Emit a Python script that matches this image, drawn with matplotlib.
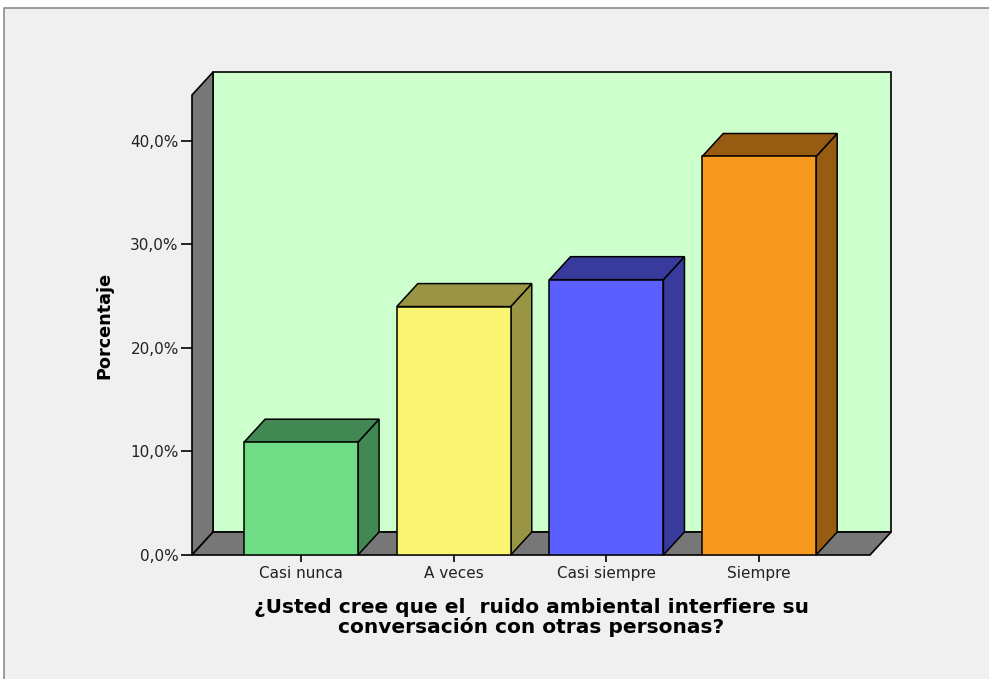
import matplotlib
matplotlib.use('Agg')
import matplotlib.pyplot as plt
from matplotlib.patches import Polygon, Rectangle
from matplotlib.lines import Line2D
from matplotlib.ticker import FuncFormatter

CATEGORIES = ['Casi nunca', 'A veces', 'Casi siempre', 'Siempre']
PERCENTS = [10.9, 24.0, 26.6, 38.5]
FRONT_COLORS = ['#70dd86', '#f9f471', '#5a5fff', '#f8991f']
SIDE_COLORS = ['#418852', '#9a9545', '#383b9c', '#985b12']
Y_TICKS = [0, 10, 20, 30, 40]
X_LABEL = '¿Usted cree que el  ruido ambiental interfiere su\nconversación con otras personas?'
Y_LABEL = 'Porcentaje'

# axis limits / 3d look
XMIN, XMAX = -0.714, 3.726
YMAX = 44.44
DX, DY = 0.138, 2.22      # depth of the fake 3d, in data units
BAR_W = 0.746
WALL = '#777777'
BACK = '#ccffcc'

fig = plt.figure(figsize=(9.89, 6.79), dpi=100, facecolor='white')
# frame of the output window (only top and left edges show)
fl, ft = 4 / 989, 1 - 8 / 679
fig.patches.append(Rectangle((fl, 0), 1 - fl, ft, transform=fig.transFigure,
                             facecolor='#f0f0f0', edgecolor='none', zorder=-10))
fig.lines.append(Line2D([fl, fl, 1], [0, ft, ft], transform=fig.transFigure,
                        color='#8c8c8c', lw=1.2))

ax = fig.add_axes([192 / 989, 1 - 555 / 679, 678 / 989, 460 / 679])
ax.set_xlim(XMIN, XMAX)
ax.set_ylim(0, YMAX)
ax.patch.set_visible(False)
for s in ax.spines.values():
    s.set_visible(False)

# back wall
ax.add_patch(Rectangle((XMIN + DX, DY), XMAX - XMIN, YMAX, facecolor=BACK,
                       edgecolor='black', lw=1.2, clip_on=False, zorder=1))
# side wall
ax.add_patch(Polygon([(XMIN, 0), (XMIN + DX, DY), (XMIN + DX, YMAX + DY), (XMIN, YMAX)],
                     closed=True, facecolor=WALL, edgecolor='black', lw=1.2,
                     clip_on=False, zorder=2))
# floor
ax.add_patch(Polygon([(XMIN, 0), (XMAX, 0), (XMAX + DX, DY), (XMIN + DX, DY)],
                     closed=True, facecolor=WALL, edgecolor='black', lw=1.2,
                     clip_on=False, zorder=2))

for i, (h, fc, sc) in enumerate(zip(PERCENTS, FRONT_COLORS, SIDE_COLORS)):
    x0 = i - BAR_W / 2
    x1 = i + BAR_W / 2
    ax.add_patch(Polygon([(x1, 0), (x1 + DX, DY), (x1 + DX, h + DY), (x1, h)],
                         closed=True, facecolor=sc, edgecolor='black', lw=1.1,
                         clip_on=False, zorder=3))
    ax.add_patch(Polygon([(x0, h), (x1, h), (x1 + DX, h + DY), (x0 + DX, h + DY)],
                         closed=True, facecolor=sc, edgecolor='black', lw=1.1,
                         clip_on=False, zorder=3))
    ax.bar(i, h, width=BAR_W, color=fc, edgecolor='black', lw=1.1, zorder=4)

ax.set_yticks(Y_TICKS)
ax.yaxis.set_major_formatter(FuncFormatter(lambda v, p: f'{v:.1f}%'.replace('.', ',')))
ax.set_xticks(range(len(CATEGORIES)))
ax.set_xticklabels(CATEGORIES)
ax.tick_params(axis='y', length=8, width=1.2, pad=1.5, labelsize=11, labelcolor='#222222')
ax.tick_params(axis='x', length=5, width=1.2, pad=3, labelsize=11, labelcolor='#222222')

ax.set_ylabel(Y_LABEL, fontsize=12.7, fontweight='bold', labelpad=12)
ax.set_xlabel(X_LABEL, fontsize=14.5, fontweight='bold', labelpad=12, linespacing=1.0)

fig.savefig('out.png', dpi=100, facecolor=fig.get_facecolor())
